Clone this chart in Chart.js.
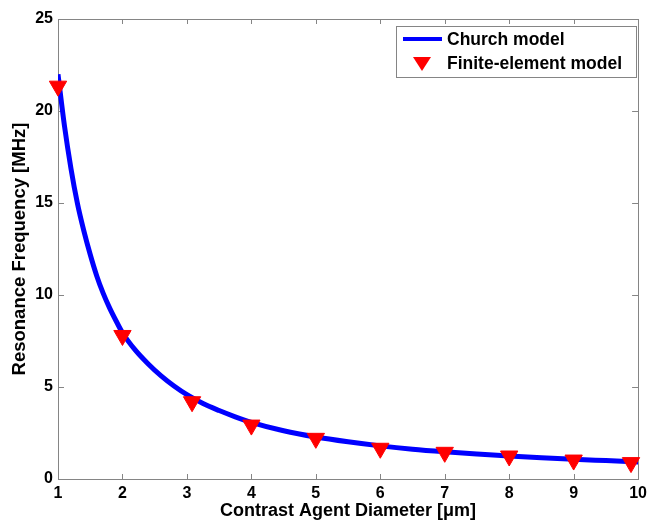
<!DOCTYPE html>
<html>
<head>
<meta charset="utf-8">
<script src="https://cdn.jsdelivr.net/npm/chart.js@4.4.0/dist/chart.umd.min.js"></script>
<style>
  html, body { margin: 0; padding: 0; background: #fff; }
  #wrap { width: 652px; height: 523px; }
</style>
</head>
<body>
<div id="wrap"><canvas id="chart" width="652" height="523"></canvas></div>
<script>
// Church model curve (diameter in um, resonance frequency in MHz)
const churchDiameter = [1.0, 1.1, 1.2, 1.3, 1.4, 1.5, 1.6, 1.7, 1.8, 1.9, 2.0, 2.2, 2.4, 2.6, 2.8, 3.0,
  3.25, 3.5, 3.75, 4.0, 4.5, 5.0, 5.5, 6.0, 6.5, 7.0, 7.5, 8.0, 8.5, 9.0, 9.5, 10.0];
const churchFreq = [22.0, 19.2, 16.9, 15.0, 13.5, 12.2, 11.05, 10.1, 9.3, 8.6, 7.95, 7.0, 6.25, 5.6, 5.05, 4.58,
  4.1, 3.72, 3.38, 3.08, 2.62, 2.28, 2.02, 1.8, 1.62, 1.48, 1.36, 1.25, 1.15, 1.07, 1.0, 0.93];

// Finite-element model points
const feDiameter = [1, 2, 3.08, 4, 5, 6, 7, 8, 9, 9.89];
const feFreq = [21.35, 7.8, 4.2, 2.93, 2.21, 1.67, 1.45, 1.25, 1.03, 0.89];

const xTicks = [1, 2, 3, 4, 5, 6, 7, 8, 9, 10];
const yTicks = [0, 5, 10, 15, 20, 25];

const seriesNames = ["Church model", "Finite-element model"];

const FONT = "'Liberation Sans', Arial, sans-serif";
const BLUE = "#0000ff";
const RED = "#ff0000";
const FRAME = "#858585";

const framePlugin = {
  id: "frame",
  beforeDatasetsDraw(chart) {
    const { ctx, chartArea: a, scales } = chart;
    ctx.save();
    ctx.strokeStyle = FRAME;
    ctx.lineWidth = 1;
    ctx.beginPath();
    xTicks.forEach(v => {
      const px = Math.round(scales.x.getPixelForValue(v)) + 0.5;
      ctx.moveTo(px, a.bottom); ctx.lineTo(px, a.bottom - 5);
      ctx.moveTo(px, a.top); ctx.lineTo(px, a.top + 5);
    });
    yTicks.forEach(v => {
      const py = Math.round(scales.y.getPixelForValue(v)) + 0.5;
      ctx.moveTo(a.left, py); ctx.lineTo(a.left + 6, py);
      ctx.moveTo(a.right, py); ctx.lineTo(a.right - 6, py);
    });
    ctx.stroke();
    ctx.strokeRect(Math.round(a.left) + 0.5, Math.round(a.top) + 0.5,
      Math.round(a.right - a.left), Math.round(a.bottom - a.top));
    ctx.restore();
  },
  afterDraw(chart) {
    const { ctx } = chart;
    // legend box, top right inside the axes
    const bx = 396, by = 26, bw = 240, bh = 51;
    ctx.save();
    ctx.fillStyle = "#fff";
    ctx.fillRect(bx, by, bw, bh);
    ctx.strokeStyle = FRAME;
    ctx.lineWidth = 1;
    ctx.strokeRect(bx + 0.5, by + 0.5, bw, bh);

    ctx.strokeStyle = BLUE;
    ctx.lineWidth = 4;
    ctx.beginPath();
    ctx.moveTo(403, 39);
    ctx.lineTo(442, 39);
    ctx.stroke();

    ctx.fillStyle = RED;
    ctx.beginPath();
    ctx.moveTo(413, 57);
    ctx.lineTo(431, 57);
    ctx.lineTo(422, 71);
    ctx.closePath();
    ctx.fill();

    ctx.fillStyle = "#000";
    ctx.font = "bold 17.5px " + FONT;
    ctx.textBaseline = "middle";
    ctx.textAlign = "left";
    ctx.fillText(seriesNames[0], 447, 40);
    ctx.fillText(seriesNames[1], 447, 64);
    ctx.restore();
  }
};

new Chart(document.getElementById("chart"), {
  type: "scatter",
  data: {
    datasets: [
      {
        label: seriesNames[0],
        data: churchDiameter.map((d, i) => ({ x: d, y: churchFreq[i] })),
        showLine: true,
        borderColor: BLUE,
        borderWidth: 5,
        pointRadius: 0,
        cubicInterpolationMode: "monotone",
        order: 2
      },
      {
        label: seriesNames[1],
        data: feDiameter.map((d, i) => ({ x: d, y: feFreq[i] })),
        showLine: false,
        pointStyle: "triangle",
        rotation: 180,
        pointRadius: 10,
        backgroundColor: RED,
        borderColor: RED,
        borderWidth: 1,
        clip: false,
        order: 1
      }
    ]
  },
  options: {
    responsive: false,
    animation: false,
    layout: { padding: { left: 0, top: 19, right: 11, bottom: 0 } },
    plugins: {
      legend: { display: false },
      tooltip: { enabled: false }
    },
    scales: {
      x: {
        type: "linear",
        min: 1,
        max: 10,
        afterFit: s => { s.height = 44; },
        afterBuildTicks: s => { s.ticks = xTicks.map(v => ({ value: v })); },
        grid: { display: false, drawTicks: false },
        border: { display: false },
        ticks: {
          color: "#000",
          padding: 5,
          maxRotation: 0,
          font: { family: FONT, size: 16, weight: "bold" }
        },
        title: {
          display: true,
          text: "Contrast Agent Diameter [μm]",
          color: "#000",
          padding: { top: 0, bottom: 1 },
          font: { family: FONT, size: 18, weight: "bold" }
        }
      },
      y: {
        type: "linear",
        min: 0,
        max: 25,
        afterFit: s => { s.width = 58; },
        afterBuildTicks: s => { s.ticks = yTicks.map(v => ({ value: v })); },
        grid: { display: false, drawTicks: false },
        border: { display: false },
        ticks: {
          color: "#000",
          padding: 5,
          font: { family: FONT, size: 16, weight: "bold" }
        },
        title: {
          display: true,
          text: "Resonance Frequency [MHz]",
          color: "#000",
          padding: { top: 9, bottom: 0 },
          font: { family: FONT, size: 18.5, weight: "bold" }
        }
      }
    }
  },
  plugins: [framePlugin]
});
</script>
</body>
</html>
